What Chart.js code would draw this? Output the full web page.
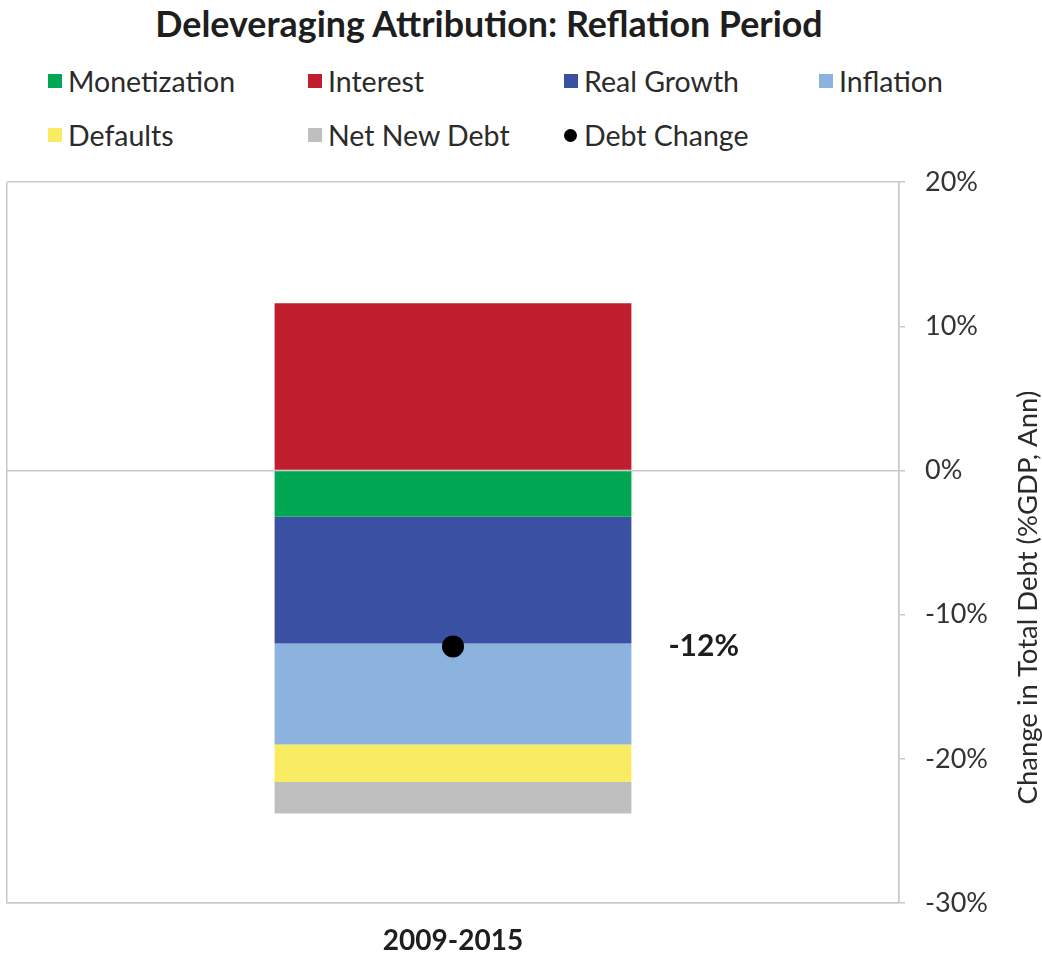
<!DOCTYPE html>
<html lang="en">
<head>
    <meta charset="UTF-8">
    <script src="https://cdn.jsdelivr.net/npm/chart.js"></script>
    <title>Deleveraging Attribution</title>
    <style>
        body { margin: 0; background: #fff; font-family: Lato, sans-serif; color: #2b2b2b; }
        #wrap { position: relative; width: 1042px; height: 958px; }
        #title { position: absolute; top: 2px; left: 0; width: 978px; text-align: center;
                 font-weight: bold; font-size: 35.8px; color: #1e1e1e; }
        #legend { position: absolute; top: 63px; left: 48px; display: grid;
                  grid-template-columns: 260px 256px 255px 200px; row-gap: 18px; }
        .item { display: flex; align-items: center; font-size: 28.5px; height: 36px; }
        .box { width: 14px; height: 14px; margin-right: 6px; }
        .dot { width: 13px; height: 13px; border-radius: 50%; margin-right: 7px; }
        #holder { position: absolute; top: 146px; left: -4px; width: 1046px; height: 812px; }
    </style>
</head>
<body>
<div id="wrap">
    <div id="title">Deleveraging Attribution: Reflation Period</div>
    <div id="legend"></div>
    <div id="holder"><canvas id="myChart"></canvas></div>
</div>
<script>
    // data (% of GDP, annualised)
    const periods = ['2009-2015'];
    const seriesNames = ['Monetization', 'Interest', 'Real Growth', 'Inflation', 'Defaults', 'Net New Debt'];
    const seriesColors = ['#00a651', '#be1e2d', '#3a51a3', '#8cb2de', '#f9ec62', '#bfbfbf'];
    const monetization = [-3.2];
    const interest = [11.6];
    const realGrowth = [-8.8];
    const inflation = [-7.0];
    const defaults = [-2.6];
    const netNewDebt = [-2.2];
    const debtChange = [-12.2];
    const yTicks = [20, 10, 0, -10, -20, -30];

    const seriesValues = [monetization, interest, realGrowth, inflation, defaults, netNewDebt];
    const gridGray = '#c9c9c9';

    const datasets = seriesNames.map((name, i) => ({
        type: 'bar',
        label: name,
        data: seriesValues[i],
        backgroundColor: seriesColors[i],
        borderWidth: 0,
        order: 1
    }));
    datasets.push({
        type: 'line',
        label: 'Debt Change',
        data: debtChange,
        stack: 'change',
        showLine: false,
        pointRadius: 11,
        pointBackgroundColor: '#000',
        pointBorderWidth: 0,
        order: 0
    });

    // legend in fixed columns like the original
    const legendEl = document.getElementById('legend');
    datasets.forEach((ds) => {
        const item = document.createElement('div');
        item.className = 'item';
        const mark = document.createElement('span');
        mark.className = ds.type === 'line' ? 'dot' : 'box';
        mark.style.background = ds.type === 'line' ? ds.pointBackgroundColor : ds.backgroundColor;
        item.appendChild(mark);
        item.appendChild(document.createTextNode(ds.label));
        legendEl.appendChild(item);
    });

    // value label next to the dot + the y axis title reading upwards
    const extras = {
        id: 'extras',
        afterDatasetsDraw(chart) {
            const ctx = chart.ctx;
            const pt = chart.getDatasetMeta(datasets.length - 1).data[0];
            const bar = chart.getDatasetMeta(0).data[0];
            ctx.save();
            ctx.font = 'bold 30px Lato';
            ctx.fillStyle = '#1e1e1e';
            ctx.textBaseline = 'middle';
            ctx.textAlign = 'left';
            ctx.fillText(Math.round(debtChange[0]) + '%', bar.x + bar.width / 2 + 37, pt.y);
            ctx.restore();
        },
        afterDraw(chart) {
            const ctx = chart.ctx;
            const area = chart.chartArea;
            ctx.save();
            ctx.translate(chart.width - 14, (area.top + area.bottom) / 2 + 55);
            ctx.rotate(-Math.PI / 2);
            ctx.font = '27.5px Lato';
            ctx.fillStyle = '#2b2b2b';
            ctx.textAlign = 'center';
            ctx.textBaseline = 'middle';
            ctx.fillText('Change in Total Debt (%GDP, Ann)', 0, 0);
            ctx.restore();
        }
    };

    const ctx = document.getElementById('myChart');
    new Chart(ctx, {
        data: { labels: periods, datasets: datasets },
        plugins: [extras],
        options: {
            responsive: true,
            maintainAspectRatio: false,
            animation: false,
            layout: { padding: { left: 0, right: 40, top: 7, bottom: 0 } },
            datasets: { bar: { barPercentage: 1, categoryPercentage: 0.4 } },
            plugins: {
                legend: { display: false },
                tooltip: { enabled: false }
            },
            scales: {
                x: {
                    stacked: true,
                    grid: { color: gridGray, lineWidth: 1.5, drawTicks: false },
                    border: { display: true, color: gridGray, width: 1.5 },
                    ticks: { padding: 21, color: '#1e1e1e', font: { family: 'Lato', size: 28, weight: 'bold' } },
                    afterFit(scale) { scale.height = 55; }
                },
                y: {
                    stacked: true,
                    position: 'right',
                    min: -30,
                    max: 20,
                    afterBuildTicks(scale) { scale.ticks = yTicks.map(v => ({ value: v })); },
                    grid: {
                        lineWidth: 1.5,
                        tickLength: 6,
                        tickColor: gridGray,
                        color: (c) => (c.tick && (c.tick.value === 0 || c.tick.value === 20 || c.tick.value === -30)) ? gridGray : 'rgba(0,0,0,0)'
                    },
                    border: { display: true, color: gridGray, width: 1.5 },
                    ticks: {
                        padding: 20,
                        color: '#333',
                        font: { family: 'Lato', size: 27 },
                        callback: (v) => v + '%'
                    },
                    afterFit(scale) { scale.width = 103; }
                }
            }
        }
    });
</script>
</body>
</html>
